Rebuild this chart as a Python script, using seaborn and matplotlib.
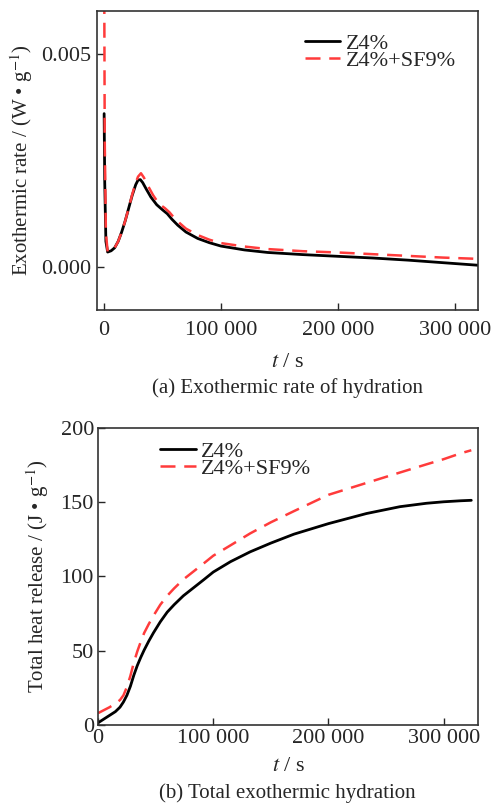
import numpy as np
import pandas as pd
import matplotlib
matplotlib.use("Agg")
import matplotlib.pyplot as plt
import seaborn as sns

# (a) exothermic rate, W/g
t_rate_z4 = [0, 500, 1500, 3000, 6000, 9000, 12000, 15000, 18000, 21000, 24000, 27000, 29000,
             31000, 33000, 36000, 40000, 45000, 50000, 54000, 58000, 63000, 70000, 80000, 90000,
             100000, 120000, 140000, 170000, 200000, 230000, 260000, 290000, 320000]
rate_z4 = [0.0036, 0.0020, 0.0006, 0.00035, 0.00038, 0.00045, 0.0006, 0.00082, 0.00108, 0.00138,
           0.00168, 0.00193, 0.00204, 0.00205, 0.00198, 0.00183, 0.00164, 0.00146, 0.00134,
           0.00125, 0.00112, 0.00098, 0.00082, 0.00067, 0.00057, 0.00049, 0.00040, 0.00034,
           0.00029, 0.00025, 0.00021, 0.00016, 0.00010, 0.00004]
t_rate_sf = [0, 500, 1500, 3000, 6000, 9000, 12000, 15000, 18000, 21000, 24000, 27000, 29000,
             31500, 34000, 38000, 42000, 47000, 52000, 56000, 60000, 65000, 70000, 80000, 90000,
             100000, 120000, 140000, 170000, 200000, 230000, 260000, 290000, 320000]
rate_sf = [0.0075, 0.0030, 0.0008, 0.00036, 0.00038, 0.00045, 0.0006, 0.00082, 0.00108, 0.00138,
           0.0017, 0.00198, 0.00212, 0.0022, 0.0021, 0.00188, 0.00168, 0.00148, 0.00138,
           0.00128, 0.00115, 0.00102, 0.0009, 0.00075, 0.00064, 0.00056, 0.00048, 0.00042,
           0.00037, 0.00034, 0.00030, 0.00026, 0.00022, 0.00019]

# (b) total heat release, J/g
t_heat = [0, 5000, 10000, 15000, 19000, 22000, 25000, 28000, 31000, 34000, 37000, 40000, 44000,
          48000, 54000, 60000, 66000, 74000, 83000, 92000, 100000, 115000, 132000, 150000,
          170000, 200000, 233000, 262000, 285000, 300000, 315000, 324000]
heat_z4 = [1.5, 4, 6.5, 9, 12, 15.5, 20, 26, 33.5, 40, 45.5, 50.5, 56.5, 62, 69.5, 76, 81, 87,
           92.5, 98, 103, 110, 116.6, 122.5, 128.5, 135.6, 142.4, 147, 149.3, 150.3, 151, 151.3]
heat_sf = [8, 10, 12, 14.5, 16.8, 20, 25.6, 33, 42, 49.5, 56, 62, 68, 73.5, 81, 87, 92, 98,
           103.5, 109, 114, 121, 129, 136.5, 144, 155, 163, 170, 175.5, 179, 183, 185]

labels = ["Z4%", "Z4%+SF9%"]

sns.set_style("ticks")
plt.rcParams["font.family"] = ["Liberation Serif", "DejaVu Serif"]
plt.rcParams["mathtext.fontset"] = "stix"
plt.rcParams["xtick.direction"] = "in"
plt.rcParams["ytick.direction"] = "in"
plt.rcParams["axes.edgecolor"] = "#333333"
plt.rcParams["axes.linewidth"] = 1.2

red = "#ff3b3b"
fig = plt.figure(figsize=(4.93, 8.06), dpi=100)
ax1 = fig.add_axes([0.197, 0.6154, 0.773, 0.371])
ax2 = fig.add_axes([0.199, 0.1005, 0.771, 0.3685])

sns.lineplot(x=t_rate_z4, y=rate_z4, ax=ax1, color="black", lw=2, label=labels[0])
sns.lineplot(x=t_rate_sf, y=rate_sf, ax=ax1, color=red, lw=1.8, dashes=(6, 3.5), label=labels[1])
ax1.set_xlim(-6000, 320000)
ax1.set_ylim(-0.00101, 0.00601)
ax1.set_yticks([0.0, 0.005])
ax1.set_yticklabels(["0.000", "0.005"])
ax1.set_xticks([0, 100000, 200000, 300000])
ax1.set_xticklabels(["0", "100 000", "200 000", "300 000"])
ax1.tick_params(labelsize=16, length=5, width=1, pad=8)
ax1.tick_params(axis="y", pad=4)
ax1.set_ylabel(r"Exothermic rate / (W • g$^{-1}$)", fontsize=15)
ax1.yaxis.set_label_coords(-0.197, 0.5)
ax1.yaxis.label.set_va("center")
ax1.set_xlabel(r"$t$ / s", fontsize=16)
ax1.xaxis.set_label_coords(0.5, -0.174)
ax1.xaxis.label.set_va("center")
ax1.legend(loc="upper right", bbox_to_anchor=(0.965, 0.955), frameon=False, fontsize=16,
           handlelength=1.6, handletextpad=0.25, labelspacing=-0.15, borderaxespad=0)

sns.lineplot(x=t_heat, y=heat_z4, ax=ax2, color="black", lw=2, label=labels[0])
sns.lineplot(x=t_heat, y=heat_sf, ax=ax2, color=red, lw=1.8, dashes=(6, 3.5), label=labels[1])
ax2.set_xlim(0, 330000)
ax2.set_ylim(0, 200)
ax2.set_yticks([0, 50, 100, 150, 200])
ax2.set_xticks([0, 100000, 200000, 300000])
ax2.set_xticklabels(["0", "100 000", "200 000", "300 000"])
ax2.tick_params(labelsize=16, length=5, width=1, pad=3)
ax2.set_ylabel(r"Total heat release / (J • g$^{-1}$)", fontsize=15)
ax2.yaxis.set_label_coords(-0.16, 0.5)
ax2.yaxis.label.set_va("center")
ax2.set_xlabel(r"$t$ / s", fontsize=16)
ax2.xaxis.set_label_coords(0.5, -0.141)
ax2.xaxis.label.set_va("center")
ax2.legend(loc="upper left", bbox_to_anchor=(0.14, 0.985), frameon=False, fontsize=16,
           handlelength=1.6, handletextpad=0.25, labelspacing=-0.15, borderaxespad=0)

fig.text(0.583, 1 - 388 / 806, "(a) Exothermic rate of hydration", ha="center", va="center", fontsize=15)
fig.text(0.583, 1 - 793 / 806, "(b) Total exothermic hydration", ha="center", va="center", fontsize=15)

fig.savefig("out.png", dpi=100)
